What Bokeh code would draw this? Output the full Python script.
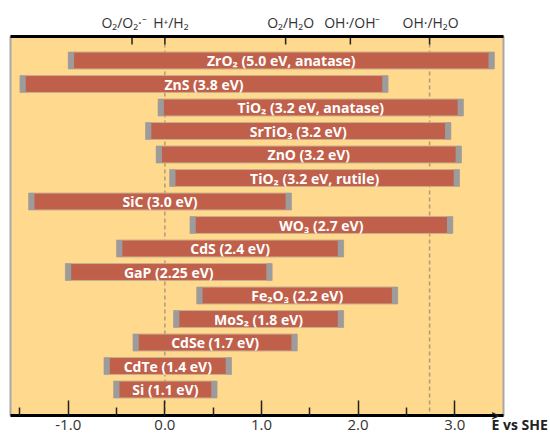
from bokeh.plotting import figure
from bokeh.models import LinearAxis, FixedTicker, Span, ColumnDataSource, AllLabels
from bokeh.embed import file_html
from bokeh.resources import INLINE
from bokeh.core.properties import value

# ---- data ----
materials = ["ZrO₂", "ZnS", "TiO₂", "SrTiO₃", "ZnO", "TiO₂", "SiC", "WO₃",
             "CdS", "GaP", "Fe₂O₃", "MoS₂", "CdSe", "CdTe", "Si"]
gap_text = ["5.0 eV, anatase", "3.8 eV", "3.2 eV, anatase", "3.2 eV", "3.2 eV",
            "3.2 eV, rutile", "3.0 eV", "2.7 eV", "2.4 eV", "2.25 eV", "2.2 eV",
            "1.8 eV", "1.7 eV", "1.4 eV", "1.1 eV"]
cb_edge = [-1.0, -1.5, -0.07, -0.2, -0.09, 0.05, -1.41, 0.26, -0.5, -1.03, 0.33, 0.09, -0.33, -0.63, -0.53]
vb_edge = [3.41, 2.31, 3.09, 2.96, 3.07, 3.05, 1.31, 2.98, 1.85, 1.11, 2.41, 1.85, 1.37, 0.69, 0.54]

redox_pos = [-0.34, 0.0, 1.25, 1.92, 2.74]
redox_labels = ["O₂/O₂·⁻", "H⁺/H₂", "O₂/H₂O", "OH·/OH⁻", "OH·/H₂O"]
dashed_pos = [0.0, 2.74]

x_ticks = [-1.0, 0.0, 1.0, 2.0, 3.0]
x_tick_labels = ["-1.0", "0.0", "1.0", "2.0", "3.0"]
x_minor = [-1.5, -0.5, 0.5, 1.5, 2.5]
axis_title = "E vs SHE"
arrow_head = ">"

# ---- styling ----
FONT = "Open Sans"
BG = "#FED98E"
BAR = "#C0604B"
CAP = "#9C9C9C"
CAP_W = 0.06
BAR_H = 0.72
PX_X = 97.0          # pixels per eV
PX_Y = 23.5          # pixels per row
label_offsets_px = [-8, 6, 5, 2, 1]
TOP_TICK_PX = 8

n = len(materials)
rows = list(range(n - 1, -1, -1))
labels = [f"{m} ({g})" for m, g in zip(materials, gap_text)]
mid = [(a + b) / 2 for a, b in zip(cb_edge, vb_edge)]
src = ColumnDataSource(dict(y=rows, left=cb_edge, right=vb_edge, label=labels, mid=mid,
                            lcap_r=[a + CAP_W for a in cb_edge],
                            rcap_l=[b - CAP_W for b in vb_edge]))

X0 = -1.598
X1 = X0 + 495 / PX_X
Y0 = -26 / PX_Y
Y1 = 14 + 24 / PX_Y

p = figure(width=550, height=437, x_range=(X0, X1), y_range=(Y0, Y1),
           output_backend="svg", toolbar_location=None,
           x_axis_location="below", y_axis_location=None,
           min_border_left=10, min_border_right=45, min_border_top=36, min_border_bottom=22)
p.background_fill_color = BG
p.border_fill_color = "white"
p.outline_line_color = "#A8A8A8"
p.outline_line_width = 2
p.grid.visible = False

for xv in dashed_pos:
    p.add_layout(Span(location=xv, dimension="height", line_color="#B09C78",
                      line_dash="4 3", line_width=1.5, level="underlay"))

# top tick marks (pointing into the plot)
p.segment(x0=redox_pos, x1=redox_pos, y0=[Y1] * len(redox_pos),
          y1=[Y1 - TOP_TICK_PX / PX_Y] * len(redox_pos), line_color="#222222", line_width=1.5)

p.hbar(y="y", left="left", right="right", height=BAR_H, source=src,
       fill_color=BAR, line_color="#C9AE8E", line_width=1)
p.hbar(y="y", left="left", right="lcap_r", height=BAR_H, source=src,
       fill_color=CAP, line_color=None)
p.hbar(y="y", left="rcap_l", right="right", height=BAR_H, source=src,
       fill_color=CAP, line_color=None)
p.text(x="mid", y="y", text="label", source=src, text_align="center",
       text_baseline="middle", text_color="white", text_font=value(FONT),
       text_font_size="14px", text_font_style="bold")

# bottom axis
ax = p.xaxis[0]
ax.ticker = FixedTicker(ticks=x_ticks, minor_ticks=x_minor)
ax.major_label_overrides = {t: s for t, s in zip(x_ticks, x_tick_labels)}
ax.axis_line_width = 3
ax.axis_line_color = "black"
ax.major_tick_in = 15
ax.major_tick_out = 0
ax.minor_tick_in = 8
ax.minor_tick_out = 0
ax.major_tick_line_width = 1.5
ax.minor_tick_line_width = 1.5
ax.major_tick_line_color = "#222222"
ax.minor_tick_line_color = "#222222"
ax.major_label_standoff = 4
ax.major_label_text_font = FONT
ax.major_label_text_font_size = "15px"
ax.major_label_text_color = "#333333"

# top axis: redox couple labels
label_x = [x + o / PX_X for x, o in zip(redox_pos, label_offsets_px)]
top = LinearAxis(ticker=FixedTicker(ticks=label_x, minor_ticks=[]))
top.major_label_overrides = {t: s for t, s in zip(label_x, redox_labels)}
top.major_label_policy = AllLabels()
top.axis_line_width = 3
top.axis_line_color = "black"
top.major_tick_line_color = None
top.minor_tick_line_color = None
top.major_tick_in = 0
top.major_tick_out = 0
top.major_label_standoff = 5
top.major_label_text_font = FONT
top.major_label_text_font_size = "14px"
top.major_label_text_color = "#333333"
p.add_layout(top, "above")

# right-hand end of the energy axis: arrow head above the axis title
end_tick = Y0 + 0.001
right = LinearAxis(ticker=FixedTicker(ticks=[end_tick], minor_ticks=[]))
right.major_label_overrides = {end_tick: " \n" + arrow_head + "\n" + axis_title}
right.major_label_policy = AllLabels()
right.axis_line_color = None
right.major_tick_line_color = None
right.minor_tick_line_color = None
right.major_tick_in = 0
right.major_tick_out = 0
right.major_label_standoff = -12
right.major_label_text_line_height = 0.5
right.major_label_text_font = FONT
right.major_label_text_font_size = "14px"
right.major_label_text_font_style = "bold"
right.major_label_text_color = "#222222"
p.add_layout(right, "right")

open("out.html", "w").write(file_html(p, INLINE))
